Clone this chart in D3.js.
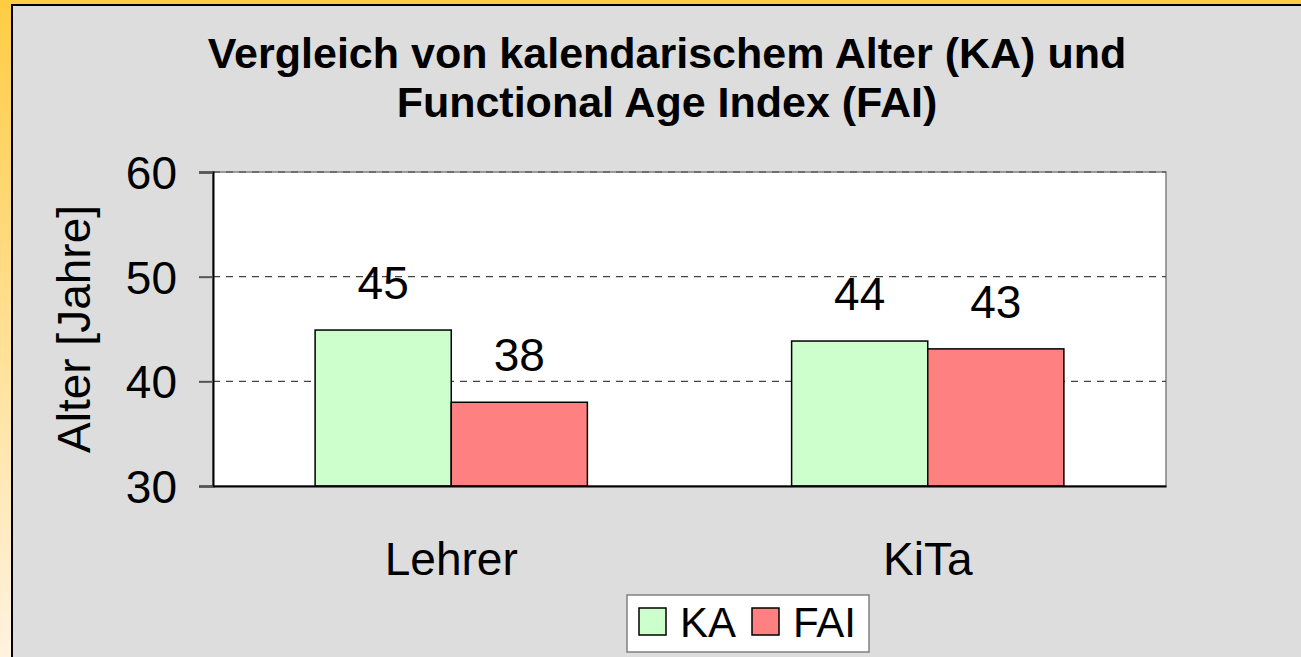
<!DOCTYPE html>
<html>
<head>
<meta charset="utf-8">
<script src="https://cdn.jsdelivr.net/npm/d3@7.9.0/dist/d3.min.js"></script>
<style>
  html, body { margin: 0; padding: 0; }
  body { width: 1301px; height: 657px; overflow: hidden; }
  svg text { font-family: "Liberation Sans", Arial, sans-serif; fill: #000; }
</style>
</head>
<body>
<svg id="chart" width="1301" height="657"></svg>
<script>
// data
const categories = ['Lehrer', 'KiTa'];
const seriesNames = ['KA', 'FAI'];
const kaValues = [44.9, 43.85];
const faiValues = [38.0, 43.1];
const yTicks = [30, 40, 50, 60];
const titleLines = ['Vergleich von kalendarischem Alter (KA) und', 'Functional Age Index (FAI)'];

const colors = { KA: '#CCFFCC', FAI: '#FF8080' };
const rows = categories.map((c, i) => ({ cat: c, KA: kaValues[i], FAI: faiValues[i] }));

const svg = d3.select('#chart');

// outer orange frame + grey panel
const defs = svg.append('defs');
const grad = defs.append('linearGradient').attr('id', 'frame')
  .attr('x1', 0).attr('y1', 0).attr('x2', 0).attr('y2', 1);
grad.append('stop').attr('offset', '0%').attr('stop-color', '#FFCC44');
grad.append('stop').attr('offset', '100%').attr('stop-color', '#FFF3E0');
svg.append('rect').attr('width', 1301).attr('height', 657).attr('fill', 'url(#frame)');
svg.append('rect').attr('x', 11).attr('y', 4).attr('width', 1290).attr('height', 653).attr('fill', '#DDDDDD');
svg.append('path').attr('d', 'M12,657V5H1301').attr('fill', 'none').attr('stroke', '#000').attr('stroke-width', 2);

// title
svg.append('g').selectAll('text').data(titleLines).enter().append('text')
  .attr('x', 667).attr('y', (d, i) => 68 + i * 49)
  .attr('text-anchor', 'middle')
  .attr('font-size', 43).attr('font-weight', 'bold')
  .text(d => d);

// plot area
const plotL = 213, plotR = 1166, plotT = 172, plotB = 486;

const y = d3.scaleLinear().domain([30, 60]).range([plotB, plotT]);
const x0 = d3.scaleBand().domain(categories).range([plotL, plotR])
  .paddingInner(0.4286).paddingOuter(0.2143);
const x1 = d3.scaleBand().domain(seriesNames).range([0, x0.bandwidth()]);

svg.append('rect').attr('x', plotL).attr('y', plotT)
  .attr('width', plotR - plotL).attr('height', plotB - plotT)
  .attr('fill', '#fff').attr('stroke', '#808080').attr('stroke-width', 1.5);

// dashed gridlines
svg.append('g').selectAll('line').data(yTicks.filter(t => t > 30)).enter().append('line')
  .attr('x1', plotL).attr('x2', plotR)
  .attr('y1', d => y(d)).attr('y2', d => y(d))
  .attr('stroke', '#444').attr('stroke-width', 1.2)
  .attr('stroke-dasharray', '7,6');

// bars
const groups = svg.append('g').selectAll('g').data(rows).enter().append('g')
  .attr('transform', d => `translate(${x0(d.cat)},0)`);

groups.selectAll('rect')
  .data(d => seriesNames.map(s => ({ key: s, value: d[s] })))
  .enter().append('rect')
  .attr('x', d => x1(d.key))
  .attr('y', d => y(d.value))
  .attr('width', x1.bandwidth())
  .attr('height', d => y(30) - y(d.value))
  .attr('fill', d => colors[d.key])
  .attr('stroke', '#000').attr('stroke-width', 1.5);

groups.selectAll('text.val')
  .data(d => seriesNames.map(s => ({ key: s, value: d[s] })))
  .enter().append('text')
  .attr('class', 'val')
  .attr('x', d => x1(d.key) + x1.bandwidth() / 2)
  .attr('y', d => y(d.value) - 31)
  .attr('text-anchor', 'middle')
  .attr('font-size', 46)
  .text(d => Math.round(d.value));

// y axis
const yAxis = svg.append('g').attr('transform', `translate(${plotL},0)`)
  .call(d3.axisLeft(y).tickValues(yTicks).tickSize(14).tickPadding(22).tickFormat(d3.format('d')));
yAxis.select('.domain').attr('stroke', '#000').attr('stroke-width', 2);
yAxis.selectAll('.tick line').attr('stroke', '#555').attr('stroke-width', 2);
yAxis.selectAll('text').attr('font-size', 46).attr('font-family', '"Liberation Sans", Arial, sans-serif')
  .attr('dy', '0.36em');

// x axis
const xAxis = svg.append('g').attr('transform', `translate(0,${plotB})`)
  .call(d3.axisBottom(x0).tickSize(0).tickPadding(56));
xAxis.select('.domain').attr('stroke', '#000').attr('stroke-width', 2);
xAxis.selectAll('text').attr('font-size', 46).attr('font-family', '"Liberation Sans", Arial, sans-serif');

// y axis title
svg.append('text')
  .attr('transform', `translate(90,${(plotT + plotB) / 2}) rotate(-90)`)
  .attr('text-anchor', 'middle')
  .attr('font-size', 46)
  .text('Alter [Jahre]');

// legend
const legend = svg.append('g');
legend.append('rect').attr('x', 627).attr('y', 595).attr('width', 242).attr('height', 57)
  .attr('fill', '#fff').attr('stroke', '#808080').attr('stroke-width', 1.5);
const legendX = [639, 752];
const items = legend.selectAll('g').data(seriesNames).enter().append('g')
  .attr('transform', (d, i) => `translate(${legendX[i]},608)`);
items.append('rect').attr('width', 27).attr('height', 27)
  .attr('fill', d => colors[d]).attr('stroke', '#000').attr('stroke-width', 1.5);
items.append('text').attr('x', 41).attr('y', 29)
  .attr('font-size', 42)
  .text(d => d);
</script>
</body>
</html>
